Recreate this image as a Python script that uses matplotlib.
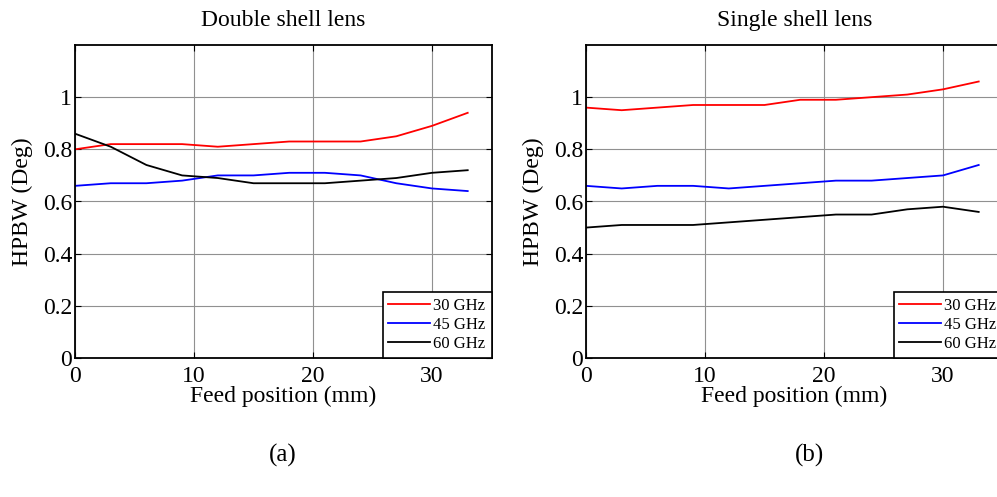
import matplotlib.pyplot as plt

plt.rcParams['font.family'] = ['Liberation Serif', 'DejaVu Serif']

feed_pos = [0, 3, 6, 9, 12, 15, 18, 21, 24, 27, 30, 33]
labels = ['30 GHz', '45 GHz', '60 GHz']
colors = ['red', 'blue', 'black']

# (a) double shell lens
double_30 = [0.80, 0.82, 0.82, 0.82, 0.81, 0.82, 0.83, 0.83, 0.83, 0.85, 0.89, 0.94]
double_45 = [0.66, 0.67, 0.67, 0.68, 0.70, 0.70, 0.71, 0.71, 0.70, 0.67, 0.65, 0.64]
double_60 = [0.86, 0.81, 0.74, 0.70, 0.69, 0.67, 0.67, 0.67, 0.68, 0.69, 0.71, 0.72]

# (b) single shell lens
single_30 = [0.96, 0.95, 0.96, 0.97, 0.97, 0.97, 0.99, 0.99, 1.00, 1.01, 1.03, 1.06]
single_45 = [0.66, 0.65, 0.66, 0.66, 0.65, 0.66, 0.67, 0.68, 0.68, 0.69, 0.70, 0.74]
single_60 = [0.50, 0.51, 0.51, 0.51, 0.52, 0.53, 0.54, 0.55, 0.55, 0.57, 0.58, 0.56]

yticks = [0, 0.2, 0.4, 0.6, 0.8, 1]
yticklabels = ['0', '0.2', '0.4', '0.6', '0.8', '1']

fig = plt.figure(figsize=(9.97, 4.97), dpi=100)
W, H = 997, 497
ax1 = fig.add_axes([75 / W, 1 - 358 / H, 416.5 / W, 313 / H])
ax2 = fig.add_axes([586 / W, 1 - 358 / H, 416.5 / W, 313 / H])

panels = [
    (ax1, 'Double shell lens', [double_30, double_45, double_60]),
    (ax2, 'Single shell lens', [single_30, single_45, single_60]),
]

for ax, title, series in panels:
    for ys, lab, c in zip(series, labels, colors):
        ax.plot(feed_pos, ys, color=c, lw=1.3, label=lab)
    ax.set_xlim(0, 35)
    ax.set_ylim(0, 1.2)
    ax.set_xticks([0, 10, 20, 30])
    ax.set_yticks(yticks)
    ax.set_yticklabels(yticklabels)
    ax.tick_params(direction='in', top=True, right=True, labelsize=17, length=4, width=0.8)
    ax.tick_params(axis='y', pad=2)
    ax.tick_params(axis='x', pad=6)
    ax.grid(True, color='#909090', lw=0.8)
    for s in ax.spines.values():
        s.set_linewidth(1.3)
    ax.set_title(title, fontsize=17, pad=14)
    ax.set_xlabel('Feed position (mm)', fontsize=17, labelpad=-1)
    ax.set_ylabel('HPBW (Deg)', fontsize=17, labelpad=7)
    leg = ax.legend(loc='lower right', fontsize=12, borderaxespad=0, fancybox=False,
                    handlelength=2.5, handletextpad=0.2, labelspacing=0.2,
                    borderpad=0.35, framealpha=1)
    leg.get_frame().set_edgecolor('black')
    leg.get_frame().set_linewidth(1.2)

fig.text(283 / W, 1 - 455 / H, '(a)', ha='center', va='center', fontsize=18)
fig.text(810 / W, 1 - 455 / H, '(b)', ha='center', va='center', fontsize=18)

fig.savefig('out.png', dpi=100)
